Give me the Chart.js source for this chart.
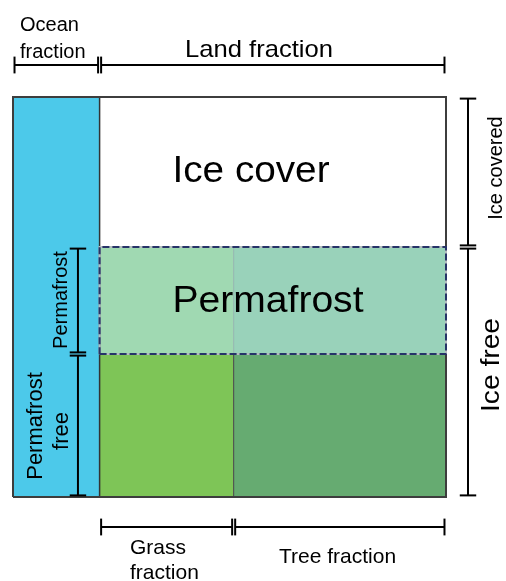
<!DOCTYPE html>
<html>
<head>
<meta charset="utf-8">
<script src="https://cdn.jsdelivr.net/npm/chart.js@4.4.1/dist/chart.umd.min.js"></script>
<style>
  html, body { margin: 0; padding: 0; background: #fff; }
  #wrap { width: 506px; height: 581px; position: relative; }
</style>
</head>
<body>
<div id="wrap"><canvas id="c"></canvas></div>
<script>
// Grid box split into fractions (x: ocean | land, y: top -> bottom zones)
const oceanFraction = 0.2;
const landFraction = 0.8;
const landTypes = ['Grass fraction', 'Tree fraction'];
const landTypeShares = [0.387, 0.613];
const zones = ['Ice cover', 'Permafrost', 'Permafrost free'];
const zoneShares = [0.375, 0.2675, 0.3575];

// boundaries in box units (0..1)
const xLand = oceanFraction;
const xTree = oceanFraction + landFraction * landTypeShares[0];
const yIce = 1 - zoneShares[0];
const yPerm = 1 - zoneShares[0] - zoneShares[1];

// text, placed in box units
const labels = [
  { text: 'Ocean', x: 0.0162, y: 1.165, size: 20, align: 'left' },
  { text: 'fraction', x: 0.0162, y: 1.098, size: 20, align: 'left' },
  { text: 'Land fraction', x: 0.5681, y: 1.1008, size: 24, width: 148 },
  { text: zones[0], x: 0.5497, y: 0.787, size: 37, width: 157 },
  { text: zones[1], x: 0.5889, y: 0.4618, size: 37, width: 191 },
  { text: 'Grass', x: 0.2702, y: -0.1433, size: 21, align: 'left' },
  { text: 'fraction', x: 0.2702, y: -0.206, size: 21, align: 'left' },
  { text: landTypes[1], x: 0.6143, y: -0.164, size: 21, align: 'left' },
  { text: 'Ice covered', x: 1.1286, y: 0.8225, size: 20, rotate: true },
  { text: 'Ice free', x: 1.1225, y: 0.33, size: 26, width: 94, rotate: true },
  { text: 'Permafrost', x: 0.124, y: 0.4925, size: 20, rotate: true },
  { text: 'Permafrost', x: 0.0663, y: 0.1775, size: 22, rotate: true },
  { text: 'free', x: 0.1277, y: 0.165, size: 22, rotate: true }
];

// helpers that turn boxes/lines into line datasets
function rect(x0, x1, y0, y1, color) {
  return {
    data: [{ x: x0, y: y1 }, { x: x1, y: y1 }],
    fill: { value: y0 }, backgroundColor: color,
    borderWidth: 0, pointRadius: 0, clip: false
  };
}
function seg(x0, y0, x1, y1, color, width, dash) {
  return {
    data: [{ x: x0, y: y0 }, { x: x1, y: y1 }],
    fill: false, borderColor: color, borderWidth: width,
    borderDash: dash || [], pointRadius: 0, clip: false
  };
}
function outline(x0, x1, y0, y1, color, width, dash) {
  return {
    data: [{ x: x0, y: y0 }, { x: x1, y: y0 }, { x: x1, y: y1 }, { x: x0, y: y1 }, { x: x0, y: y0 }],
    fill: false, borderColor: color, borderWidth: width,
    borderDash: dash || [], pointRadius: 0, clip: false, borderJoinStyle: 'miter'
  };
}
const TX = 0.019, TY = 0.021, GX = 0.0035, GY = 0.004;
function hBracket(a, b, y) {
  return [
    seg(a + GX, y - TY, a + GX, y + TY, '#000', 2),
    seg(a + GX, y, b - GX, y, '#000', 2),
    seg(b - GX, y - TY, b - GX, y + TY, '#000', 2)
  ];
}
function vBracket(a, b, x) {
  return [
    seg(x - TX, a + GY, x + TX, a + GY, '#000', 2),
    seg(x, a + GY, x, b - GY, '#000', 2),
    seg(x - TX, b - GY, x + TX, b - GY, '#000', 2)
  ];
}

// listed bottom -> top
const layers = [
  rect(0, xLand, 0, 1, '#4CC9EA'),
  rect(xLand, 1, yIce, 1, '#FFFFFF'),
  rect(xLand, xTree, yPerm, yIce, '#A0D9B2'),
  rect(xTree, 1, yPerm, yIce, '#99D2BA'),
  rect(xLand, xTree, 0, yPerm, '#7EC557'),
  rect(xTree, 1, 0, yPerm, '#66AB71'),
  seg(xTree, 0, xTree, yPerm, '#3F3F3F', 1),
  seg(xTree, yPerm, xTree, yIce, '#8FB3AB', 1),
  seg(xLand, 0, xLand, 1, '#333333', 1.5),
  outline(0, 1, 0, 1, '#3D3D3D', 2),
  outline(xLand, 1, yPerm, yIce, '#B4BEBE', 2),
  outline(xLand, 1, yPerm, yIce, '#263368', 2, [7, 3]),
  ...hBracket(0, xLand, 1.08),
  ...hBracket(xLand, 1, 1.08),
  ...hBracket(xLand, xTree, -0.075),
  ...hBracket(xTree, 1, -0.075),
  ...vBracket(yIce, 1, 1.0508),
  ...vBracket(0, yIce, 1.0508),
  ...vBracket(yPerm, yIce, 0.15),
  ...vBracket(0, yPerm, 0.15)
];

const labelPlugin = {
  id: 'boxLabels',
  afterDatasetsDraw(chart) {
    const { ctx, scales: { x, y } } = chart;
    labels.forEach(l => {
      ctx.save();
      ctx.translate(x.getPixelForValue(l.x), y.getPixelForValue(l.y));
      if (l.rotate) ctx.rotate(-Math.PI / 2);
      ctx.font = l.size + 'px "Liberation Sans", Arial, sans-serif';
      ctx.fillStyle = '#000';
      ctx.textBaseline = 'alphabetic';
      ctx.textAlign = l.align || 'center';
      if (l.width) {
        const w = ctx.measureText(l.text).width;
        ctx.scale(l.width / w, 1);
      }
      ctx.fillText(l.text, 0, 0);
      ctx.restore();
    });
  }
};

new Chart(document.getElementById('c'), {
  type: 'line',
  data: { datasets: layers.slice().reverse() },
  options: {
    responsive: true,
    maintainAspectRatio: false,
    animation: false,
    events: [],
    layout: { padding: { left: 13, top: 97, right: 60, bottom: 84 } },
    scales: {
      x: { type: 'linear', min: 0, max: 1, display: false },
      y: { type: 'linear', min: 0, max: 1, display: false }
    },
    plugins: { legend: { display: false }, tooltip: { enabled: false } }
  },
  plugins: [labelPlugin]
});
</script>
</body>
</html>
